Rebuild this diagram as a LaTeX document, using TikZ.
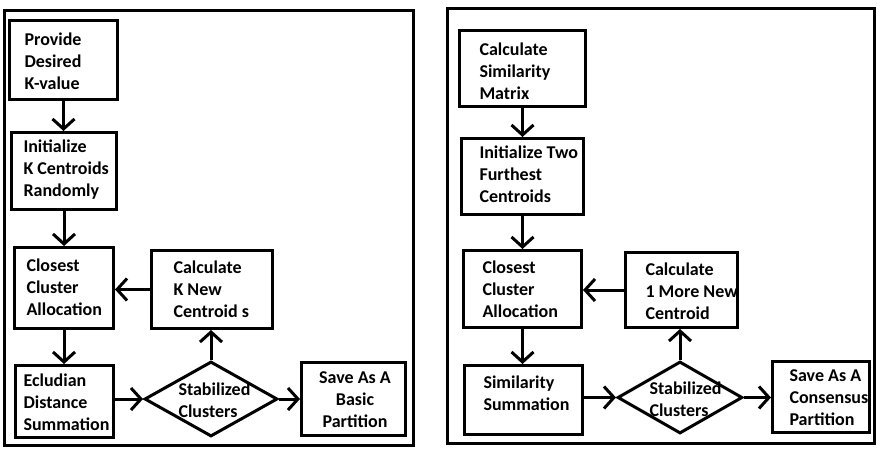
\documentclass[tikz,border=0pt]{standalone}
\usepackage{fontspec}
\setmainfont{Carlito}
\usetikzlibrary{arrows.meta,shapes.geometric}
\begin{document}
\begin{tikzpicture}[x=1pt,y=-1pt,line width=3pt,
  box/.style={draw,rectangle,inner sep=0pt},
  dbox/.style={draw,diamond,inner sep=0pt},
  txt/.style={anchor=west,inner sep=0pt,align=left,font=\fontsize{18}{22}\selectfont\bfseries},
  ctxt/.style={inner sep=0pt,align=center,font=\fontsize{18}{22}\selectfont\bfseries},
  arr/.style={-{Straight Barb[length=10pt,width=22pt]}}]
\useasboundingbox (0,0) rectangle (882,454);
% frames
\draw (4.5,10.5) rectangle (413.5,445.5);
\draw (447.5,8.5) rectangle (874.5,443.5);
% left panel
\node[box,minimum width=108pt,minimum height=79pt] (prov) at (63.5,60) {};
\node[box,minimum width=105pt,minimum height=77pt] (initk) at (64,171) {};
\node[box,minimum width=99pt,minimum height=81pt] (close) at (64,288) {};
\node[box,minimum width=121pt,minimum height=78pt] (calc) at (212,289.5) {};
\node[box,minimum width=98pt,minimum height=72pt] (ecl) at (64.5,401.5) {};
\node[dbox,minimum width=133pt,minimum height=75pt] (dia) at (211,399) {};
\node[box,minimum width=104pt,minimum height=73pt] (save) at (353.5,399) {};
\node[txt] (tprov) at (23,61) {Provide\\Desired\\K-value};
\node[txt] (tinitk) at (22,170) {Initialize\\K Centroids\\Randomly};
\node[txt] (tclose) at (25,287) {Closest\\Cluster\\Allocation};
\node[txt] (tcalc) at (172,289) {Calculate\\K New\\Centroid s};
\node[txt] (tecl) at (22,402) {Ecludian\\Distance\\Summation};
\node[txt] (tdia) at (177,400) {Stabilized\\Clusters};
\node[ctxt] (tsave) at (355,399.5) {Save As A\\Basic\\Partition};
\draw[arr] (prov.south) -- (prov.south |- initk.north);
\draw[arr] (initk.south) -- (initk.south |- close.north);
\draw[arr] (close.south) -- (close.south |- ecl.north);
\draw[arr] (calc.west) -- (calc.west -| close.east);
\draw[arr] (dia.west -| ecl.east) -- (dia.west);
\draw[arr] (dia.north) -- (dia.north |- calc.south);
\draw[arr] (dia.east) -- (dia.east -| save.west);
% right panel
\node[box,minimum width=126pt,minimum height=76pt] (sim) at (522.5,68.5) {};
\node[box,minimum width=122pt,minimum height=76pt] (init2) at (522.5,176.5) {};
\node[box,minimum width=118pt,minimum height=77pt] (close2) at (522.5,289) {};
\node[box,minimum width=112pt,minimum height=75pt] (calc2) at (681.5,290) {};
\node[box,minimum width=118pt,minimum height=69pt] (simsum) at (523.5,400) {};
\node[dbox,minimum width=125pt,minimum height=72pt] (dia2) at (680,397.5) {};
\node[box,minimum width=97pt,minimum height=71pt] (save2) at (821,397) {};
\node[txt] (tsim) at (478,71) {Calculate\\Similarity\\Matrix};
\node[txt] (tinit2) at (478,174) {Initialize Two\\Furthest\\Centroids};
\node[txt] (tclose2) at (481,289) {Closest\\Cluster\\Allocation};
\node[txt] (tcalc2) at (644,291) {Calculate\\1 More New\\Centroid};
\node[txt] (tsimsum) at (482,393) {Similarity\\Summation};
\node[txt] (tdia2) at (648,399) {Stabilized\\Clusters};
\node[txt] (tsave2) at (788,398) {Save As A\\Consensus\\Partition};
\draw[arr] (sim.south) -- (sim.south |- init2.north);
\draw[arr] (init2.south) -- (init2.south |- close2.north);
\draw[arr] (close2.south) -- (close2.south |- simsum.north);
\draw[arr] (calc2.west) -- (calc2.west -| close2.east);
\draw[arr] (dia2.west -| simsum.east) -- (dia2.west);
\draw[arr] (dia2.north) -- (dia2.north |- calc2.south);
\draw[arr] (dia2.east) -- (dia2.east -| save2.west);
\end{tikzpicture}
\end{document}
